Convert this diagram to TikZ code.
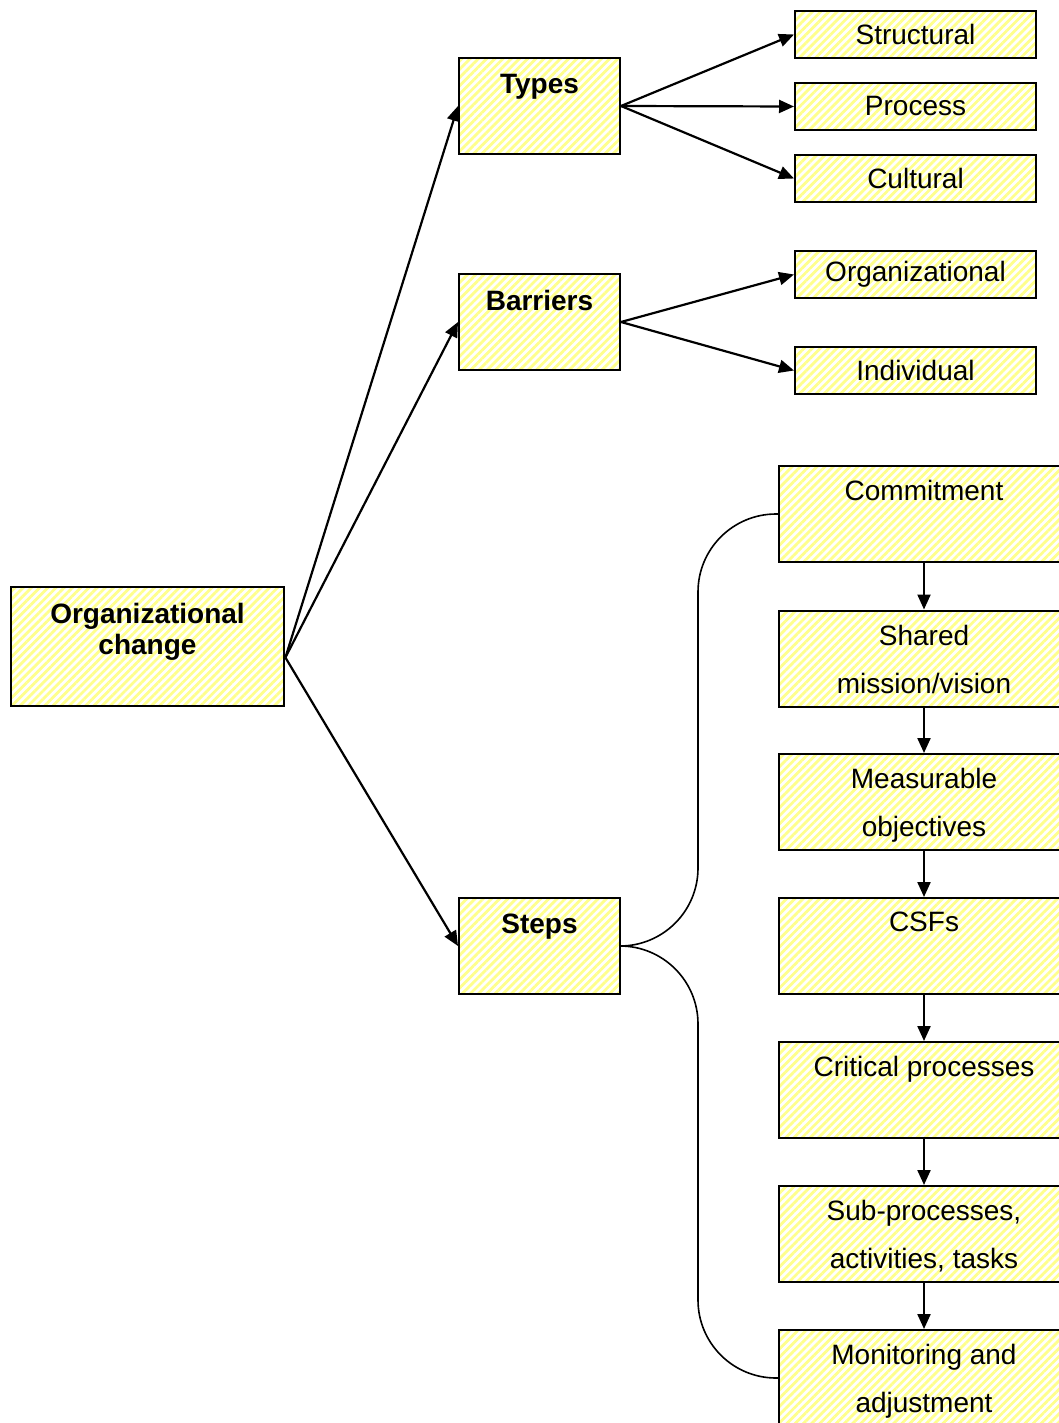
\documentclass[tikz,border=0pt]{standalone}
\usepackage{fontspec}
\setmainfont{Liberation Sans}
\usepackage{tikz}
\usetikzlibrary{arrows.meta,patterns.meta,positioning}
\definecolor{hatchbg}{RGB}{255,255,224}
\definecolor{hatchfg}{RGB}{255,255,140}
\tikzset{>={Triangle[length=7.5pt,width=6.5pt]}}
\tikzset{
  hatched/.style={draw=black, line width=1pt, fill=hatchbg,
    pattern={Lines[angle=45,distance=2.9pt,line width=1.4pt]}, pattern color=hatchfg,
    inner sep=0pt},
  leaf/.style={hatched, minimum width=120.5pt, minimum height=23.5pt,
    font=\fontsize{14}{16}\selectfont},
  midbox/.style={hatched, minimum width=80.5pt, minimum height=48pt},
  rootbox/.style={hatched, minimum width=136.5pt, minimum height=59.5pt},
  stepbox/.style={hatched, minimum width=145pt, minimum height=48pt},
  toptext/.style={anchor=north, inner sep=0pt, yshift=-7.5pt, align=center},
  boldtext/.style={toptext, yshift=-1pt, font=\bfseries\fontsize{14}{15.5}\selectfont},
  plaintext/.style={toptext, font=\fontsize{14}{24}\selectfont},
  link/.style={->, line width=1.1pt},
  brace/.style={line width=0.8pt, rounded corners=39pt},
}
\begin{document}
\begin{tikzpicture}[x=0.5pt,y=-0.5pt]
\useasboundingbox (0,0) rectangle (1059,1423);

% root and second level
\node[rootbox] (change) at (147.5,646.5) {};
\node[boldtext] (change-t) at (change.north) {Organizational\\change};
\node[midbox] (types) at (539.5,106) {};
\node[boldtext] (types-t) at (types.north) {Types};
\node[midbox] (barriers) at (539.5,322) {};
\node[boldtext] (barriers-t) at (barriers.north) {Barriers};
\node[midbox] (steps) at (539.5,946) {};
\node[boldtext] (steps-t) at (steps.north) {Steps};

% leaves
\node[leaf] (structural) at (915.5,34.5) {Structural};
\node[leaf] (process) at (915.5,106.5) {Process};
\node[leaf] (cultural) at (915.5,178.5) {Cultural};
\node[leaf] (orglevel) at (915.5,274.5) {Organizational};
\node[leaf] (individual) at (915.5,370.5) {Individual};

% step chain
\node[stepbox] (commit) at (924,514) {};
\node[plaintext] (commit-t) at (commit.north) {Commitment};
\node[stepbox] (shared) at (924,658.5) {};
\node[plaintext] (shared-t) at (shared.north) {Shared\\mission/vision};
\node[stepbox] (measure) at (924,802) {};
\node[plaintext] (measure-t) at (measure.north) {Measurable\\objectives};
\node[stepbox] (csfs) at (924,946) {};
\node[plaintext] (csfs-t) at (csfs.north) {CSFs};
\node[stepbox] (critical) at (924,1090) {};
\node[plaintext] (critical-t) at (critical.north) {Critical processes};
\node[stepbox] (subproc) at (924,1234) {};
\node[plaintext] (subproc-t) at (subproc.north) {Sub-processes,\\activities, tasks};
\node[stepbox] (monitor) at (924,1378) {};
\node[plaintext] (monitor-t) at (monitor.north) {Monitoring and\\adjustment};

\coordinate (fork) at ([yshift=-5.5pt]change.east);
\draw[link] (fork) -- (types.west);
\draw[link] (fork) -- (barriers.west);
\draw[link] (fork) -- (steps.west);

\draw[link] (types.east) -- (structural.west);
\draw[link] (types.east) -- (process.west);
\draw[link] (types.east) -- (cultural.west);
\draw[link] (barriers.east) -- (orglevel.west);
\draw[link] (barriers.east) -- (individual.west);

\foreach \a/\b in {commit/shared,shared/measure,measure/csfs,csfs/critical,critical/subproc,subproc/monitor}
  \draw[link] (\a.south) -- (\b.north);

\draw[brace] (steps.east) -| ([xshift=-40pt]commit.west) -- (commit.west);
\draw[brace] (steps.east) -| ([xshift=-40pt]monitor.west) -- (monitor.west);
\end{tikzpicture}
\end{document}
